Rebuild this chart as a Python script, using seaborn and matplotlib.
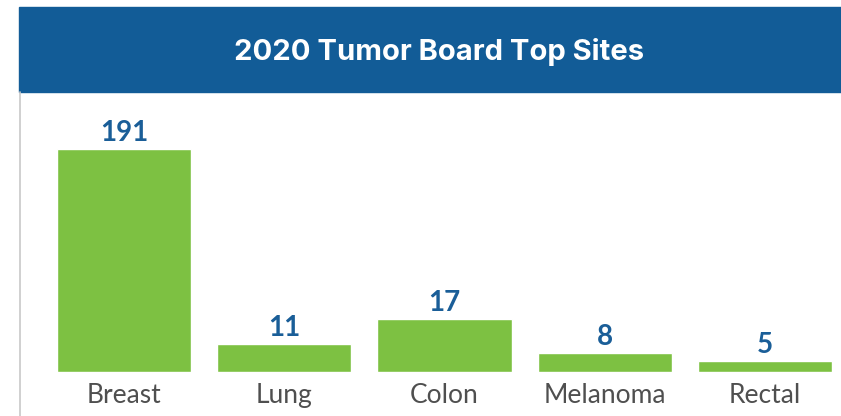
import matplotlib
matplotlib.use("Agg")
import matplotlib.pyplot as plt
import seaborn as sns
from matplotlib.patches import Rectangle
from matplotlib.lines import Line2D

# ----------------------------- #
#  Data
# ----------------------------- #
sites = ["Breast", "Lung", "Colon", "Melanoma", "Rectal"]
counts = [191, 11, 17, 8, 5]
# bar heights as drawn in the original graphic (not to scale with counts)
bar_heights = [223, 28, 53, 19, 11]

title = "2020 Tumor Board Top Sites"
header_blue = "#125C97"
label_blue = "#1A5E98"
bar_green = "#7DC142"
text_gray = "#4F4F4F"

# ----------------------------- #
#  Figure
# ----------------------------- #
sns.set_theme(style="white")
plt.rcParams["font.family"] = ["Lato", "DejaVu Sans"]

W, H = 841, 416
fig = plt.figure(figsize=(W / 100, H / 100), dpi=100)

# header band + title
fig.patches.append(Rectangle((19 / W, 1 - 92 / H), 1 - 19 / W, 85 / H,
                             transform=fig.transFigure, color=header_blue, zorder=0))
fig.text(439 / W, 1 - 52 / H, title, color="white", fontsize=21,
         fontweight="bold", family=["Inter", "DejaVu Sans"],
         ha="center", va="center")
# thin left border
fig.lines.append(Line2D([19.5 / W, 19.5 / W], [0, 1 - 92 / H],
                        transform=fig.transFigure, color="#C8C8C8", lw=1.2))

# ----------------------------- #
#  Bars
# ----------------------------- #
ax = fig.add_axes([20 / W, (H - 372) / H, (W - 20) / W, 280 / H])
sns.barplot(x=sites, y=bar_heights, color=bar_green, saturation=1,
            width=0.8375, ax=ax)
ax.set_xlim((20 - 124) / 160.25, (841 - 124) / 160.25)
ax.set_ylim(0, 280)
ax.bar_label(ax.containers[0], labels=[str(c) for c in counts], padding=2,
             fontsize=20, fontweight="bold", color=label_blue)

ax.set_yticks([])
ax.tick_params(axis="x", length=0, pad=8, labelsize=19, labelcolor=text_gray)
for side in ax.spines.values():
    side.set_visible(False)
ax.set_xlabel("")
ax.set_ylabel("")

fig.savefig("out.png", dpi=100)
